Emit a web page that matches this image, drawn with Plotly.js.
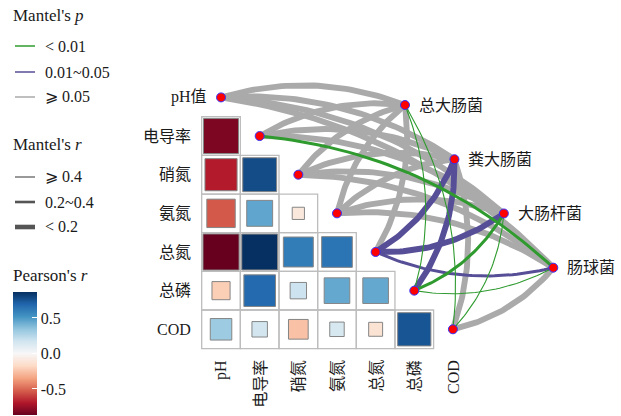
<!DOCTYPE html>
<html><head><meta charset="utf-8">
<script src="https://cdn.plot.ly/plotly-3.0.1.min.js"></script>
<style>body{margin:0;background:#fff}</style>
</head><body><div id="chart" style="width:621px;height:416px"></div>
<script>
// ---------- data ----------
const envNames = ['pH值','电导率','硝氮','氨氮','总氮','总磷','COD'];
const colNames = ['pH','电导率','硝氮','氨氮','总氮','总磷','COD'];
const specNames = ['总大肠菌','粪大肠菌','大肠杆菌','肠球菌'];
// Pearson's r, lower triangle (row i, columns 0..i-1)
const corrRows = [
  [],
  [-0.82],
  [-0.69, 0.77],
  [-0.54, 0.45, -0.10],
  [-0.87, 0.86, 0.60, 0.63],
  [-0.22, 0.67, 0.18, 0.44, 0.44],
  [0.31, 0.16, -0.26, 0.14, -0.13, 0.74]
];
// Mantel test classes (rows: env, cols: species)
const mantelP = [
  ['>=0.05','>=0.05','>=0.05','>=0.05'],
  ['>=0.05','>=0.05','>=0.05','<0.01'],
  ['>=0.05','>=0.05','>=0.05','>=0.05'],
  ['>=0.05','>=0.05','>=0.05','>=0.05'],
  ['>=0.05','0.01-0.05','0.01-0.05','0.01-0.05'],
  ['<0.01','0.01-0.05','<0.01','<0.01'],
  ['<0.01','>=0.05','<0.01','>=0.05']
];
const mantelR = [
  ['<0.2','<0.2','<0.2','<0.2'],
  ['<0.2','<0.2','<0.2','0.2-0.4'],
  ['<0.2','<0.2','<0.2','<0.2'],
  ['<0.2','<0.2','<0.2','<0.2'],
  ['<0.2','<0.2','<0.2','0.2-0.4'],
  ['>=0.4','<0.2','0.2-0.4','>=0.4'],
  ['>=0.4','<0.2','>=0.4','<0.2']
];
const pLegend = ['< 0.01','0.01~0.05','⩾ 0.05'];
const rLegend = ['⩾ 0.4','0.2~0.4','< 0.2'];
const cbTicks = [-0.5, 0, 0.5];
const cbTickText = ['-0.5','0.0','0.5'];

// ---------- styles / layout helpers ----------
const W = 621, H = 416, CELL = 38.65;
const X0 = -0.5 - 201.7 / CELL;
const Y0 = -97.4 / CELL;
const FONT = 'Liberation Serif, Noto Sans CJK SC, serif';
const TXT = '#1a1a1a';
const pColor = {'<0.01':'#2f9b2f','0.01-0.05':'#564e96','>=0.05':'#aaaaaa'};
const rWidth = {'>=0.4':1.1,'0.2-0.4':3,'<0.2':5.9};
const pOrder = {'>=0.05':0,'0.01-0.05':1,'<0.01':2};
const rdbu = ['#67001f','#b2182b','#d6604d','#f4a582','#fddbc7','#f7f7f7','#d1e5f0','#92c5de','#4393c3','#2166ac','#053061'];
const colorscale = rdbu.map((c,i)=>[i/10,c]);
const px = p => p / W, py = p => 1 - p / H;

// species node positions (layout along a diagonal line)
const specStart = [4.760, 0.197], specStep = [1.279, 1.403];
const specPos = specNames.map((_,k)=>[specStart[0]+k*specStep[0], specStart[1]+k*specStep[1]]);

const traces = [];
const shapes = [];
const annotations = [];

// grid cells
for (let i=1;i<envNames.length;i++){
  for (let j=0;j<i;j++){
    shapes.push({type:'rect', xref:'x', yref:'y', x0:j-0.5, x1:j+0.5, y0:i-0.5, y1:i+0.5,
      line:{color:'#bdbdbd', width:1.3}, fillcolor:'rgba(0,0,0,0)', layer:'below'});
  }
}

// squares
const sqX=[], sqY=[], sqR=[], sqS=[];
corrRows.forEach((row,i)=>row.forEach((r,j)=>{
  sqX.push(j); sqY.push(i); sqR.push(r); sqS.push(CELL*Math.sqrt(Math.abs(r)));
}));
traces.push({type:'scatter', mode:'markers', x:sqX, y:sqY, hoverinfo:'skip',
  marker:{symbol:'square', size:sqS, opacity:1, color:sqR, colorscale:colorscale, cmin:-0.87, cmax:0.86,
    line:{color:'#858585', width:1},
    colorbar:{thickness:24, thicknessmode:'pixels', len:123.4, lenmode:'pixels',
      x:px(13.3), xanchor:'left', y:py(292.3), yanchor:'top', xpad:0, ypad:0,
      outlinewidth:0, tickvals:cbTicks, ticktext:cbTickText, ticks:'inside', ticklen:5,
      tickcolor:'#ffffff', tickwidth:1, tickfont:{family:FONT, size:16, color:TXT}}}});

// links
const links = [];
envNames.forEach((_,i)=>specNames.forEach((_,k)=>links.push({i,k,p:mantelP[i][k],r:mantelR[i][k]})));
links.sort((a,b)=>pOrder[a.p]-pOrder[b.p]);
links.forEach(l=>{
  const sx=l.i, sy=l.i, ex=specPos[l.k][0], ey=specPos[l.k][1];
  const dx=ex-sx, dy=ey-sy;
  const sgn = l.i<=3 ? 1 : -1;
  const cx=(sx+ex)/2 + sgn*0.17*dy, cy=(sy+ey)/2 - sgn*0.17*dx;
  const xs=[], ys=[];
  for (let t=0;t<=40;t++){
    const u=t/40;
    xs.push((1-u)*(1-u)*sx + 2*(1-u)*u*cx + u*u*ex);
    ys.push((1-u)*(1-u)*sy + 2*(1-u)*u*cy + u*u*ey);
  }
  traces.push({type:'scatter', mode:'lines', x:xs, y:ys, hoverinfo:'skip',
    line:{color:pColor[l.p], width:rWidth[l.r]}});
});

// nodes
const nX = envNames.map((_,i)=>i).concat(specPos.map(p=>p[0]));
const nY = envNames.map((_,i)=>i).concat(specPos.map(p=>p[1]));
traces.push({type:'scatter', mode:'markers', x:nX, y:nY, hoverinfo:'skip',
  marker:{color:'#ff0000', size:9, opacity:1, line:{color:'#3333ff', width:1}}});

// labels
envNames.forEach((n,i)=>{
  annotations.push({xref:'x', yref:'y', x: i===0 ? -0.311 : -0.738, y:i, text:n, showarrow:false,
    xanchor:'right', yanchor:'middle', font:{family:FONT, size:16, color:TXT}});
});
colNames.forEach((n,j)=>{
  annotations.push({xref:'x', yref:'y', x:j, y:6.743, text:n, showarrow:false, textangle:-90,
    xanchor:'center', yanchor:'top', font:{family:FONT, size:16, color:TXT}});
});
specNames.forEach((n,k)=>{
  annotations.push({xref:'x', yref:'y', x:specPos[k][0]+0.31, y:specPos[k][1], text:n, showarrow:false,
    xanchor:'left', yanchor:'middle', font:{family:FONT, size:16, color:TXT}});
});

// legends
const legTitle = (t,y)=>annotations.push({xref:'paper', yref:'paper', x:px(11), y:py(y), text:t, showarrow:false,
  xanchor:'left', yanchor:'middle', font:{family:FONT, size:17, color:TXT}});
const legText = (t,y)=>annotations.push({xref:'paper', yref:'paper', x:px(43), y:py(y), text:t, showarrow:false,
  xanchor:'left', yanchor:'middle', font:{family:FONT, size:16, color:TXT}});
legTitle("Mantel's <i>p</i>", 16);
const pKeys = ['<0.01','0.01-0.05','>=0.05'];
const pY = [46, 72, 97];
pKeys.forEach((k,idx)=>{
  shapes.push({type:'line', xref:'paper', yref:'paper', x0:px(15), x1:px(35), y0:py(pY[idx]), y1:py(pY[idx]),
    line:{color:pColor[k], width:1.5}});
  legText(pLegend[idx], pY[idx]);
});
legTitle("Mantel's <i>r</i>", 144);
const rKeys = ['>=0.4','0.2-0.4','<0.2'];
const rKeyW = [1.2, 2.6, 4.6];
const rY = [177, 202, 227];
rKeys.forEach((k,idx)=>{
  shapes.push({type:'line', xref:'paper', yref:'paper', x0:px(15), x1:px(35), y0:py(rY[idx]), y1:py(rY[idx]),
    line:{color:'#555555', width:rKeyW[idx]}});
  legText(rLegend[idx], rY[idx]);
});
legTitle("Pearson's <i>r</i>", 275);

const layout = {
  width:W, height:H, margin:{l:0,r:0,t:0,b:0}, autosize:false,
  paper_bgcolor:'#ffffff', plot_bgcolor:'#ffffff', showlegend:false,
  xaxis:{visible:false, range:[X0, X0+W/CELL], fixedrange:true},
  yaxis:{visible:false, range:[Y0+H/CELL, Y0], fixedrange:true},
  shapes:shapes, annotations:annotations
};
Plotly.newPlot('chart', traces, layout, {displayModeBar:false, staticPlot:true});
</script></body></html>
